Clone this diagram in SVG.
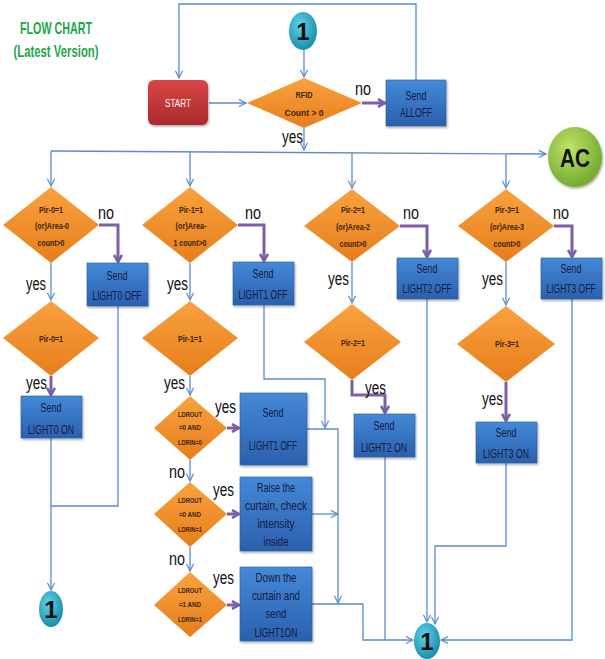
<svg xmlns="http://www.w3.org/2000/svg" width="605" height="659" viewBox="0 0 605 659">
<style>
.dia{fill:url(#gO);}
.box{fill:url(#gB);stroke:#2a5a9e;stroke-width:0.6;filter:url(#sh);}
.dt{font-family:"Liberation Sans",Arial,sans-serif;font-weight:bold;font-size:9px;fill:#3a2410;text-anchor:middle;}
.ds{font-family:"Liberation Sans",Arial,sans-serif;font-weight:bold;font-size:7px;fill:#3a2410;text-anchor:middle;}
.bt{font-family:"Liberation Sans",Arial,sans-serif;font-size:12px;fill:#141a3c;text-anchor:middle;}
.lb{font-family:"Liberation Sans",Arial,sans-serif;font-size:18px;fill:#111;}
.ct{font-family:"Liberation Sans",Arial,sans-serif;font-weight:bold;fill:#111;text-anchor:middle;}
.bl{fill:none;stroke:#5b8bd0;stroke-width:1.3;}
.pl{fill:none;stroke:#7e5fa6;stroke-width:3;}
.ttl{font-family:"Liberation Sans",Arial,sans-serif;font-weight:bold;font-size:17px;fill:#1fa54a;text-anchor:middle;}
</style>
<defs>
<linearGradient id="gO" x1="0" y1="0" x2="0" y2="1"><stop offset="0" stop-color="#f9a23e"/><stop offset="1" stop-color="#e67e1c"/></linearGradient>
<linearGradient id="gB" x1="0" y1="0" x2="0" y2="1"><stop offset="0" stop-color="#4489d8"/><stop offset="1" stop-color="#2b60ae"/></linearGradient>
<linearGradient id="gR" x1="0" y1="0" x2="0" y2="1"><stop offset="0" stop-color="#d94545"/><stop offset="1" stop-color="#a92a2c"/></linearGradient>
<radialGradient id="gT" cx="0.4" cy="0.35" r="0.7"><stop offset="0" stop-color="#5fd4ea"/><stop offset="1" stop-color="#1689a8"/></radialGradient>
<radialGradient id="gG" cx="0.4" cy="0.35" r="0.7"><stop offset="0" stop-color="#bfe46a"/><stop offset="1" stop-color="#6fa62a"/></radialGradient>
<filter id="sh" x="-20%" y="-20%" width="140%" height="140%"><feDropShadow dx="1" dy="1.5" stdDeviation="1.2" flood-color="#000" flood-opacity="0.35"/></filter>
<marker id="ab" viewBox="0 0 10 10" refX="9" refY="5" markerWidth="9" markerHeight="9" markerUnits="userSpaceOnUse" orient="auto"><path d="M1,1 L9,5 L1,9" fill="none" stroke="#5b8bd0" stroke-width="1.3"/></marker>
<marker id="ap" viewBox="0 0 10 10" refX="8" refY="5" markerWidth="10" markerHeight="10" markerUnits="userSpaceOnUse" orient="auto"><path d="M1,1 L8,5 L1,9" fill="none" stroke="#7e5fa6" stroke-width="2.6"/></marker>
</defs>
<rect width="605" height="659" fill="#fff"/>

<g id="title">
<text class="ttl" x="56" y="34" textLength="72" lengthAdjust="spacingAndGlyphs">FLOW CHART</text>
<text class="ttl" x="56" y="57" textLength="85" lengthAdjust="spacingAndGlyphs">(Latest Version)</text>
</g>

<g id="connectors">
<polyline class="bl" points="416,80 416,4 179,4 179,78" marker-end="url(#ab)"/>
<line class="bl" x1="304" y1="50" x2="304" y2="77" marker-end="url(#ab)"/>
<line class="bl" x1="209" y1="103" x2="246" y2="103" marker-end="url(#ab)"/>
<line class="pl" x1="362" y1="103" x2="385" y2="103" marker-end="url(#ap)"/>
<line class="bl" x1="304" y1="128" x2="304" y2="150" marker-end="url(#ab)"/>
<line class="bl" x1="51" y1="151" x2="546" y2="154" marker-end="url(#ab)"/>
<line class="bl" x1="51" y1="151" x2="51" y2="186" marker-end="url(#ab)"/>
<line class="bl" x1="190" y1="152" x2="190" y2="186" marker-end="url(#ab)"/>
<line class="bl" x1="352" y1="153" x2="352" y2="188" marker-end="url(#ab)"/>
<line class="bl" x1="506" y1="154" x2="506" y2="188" marker-end="url(#ab)"/>
<polyline class="pl" points="99,225 118,225 118,262" marker-end="url(#ap)"/>
<polyline class="pl" points="238,225 264,225 264,261" marker-end="url(#ap)"/>
<polyline class="pl" points="400,226 427,226 427,257" marker-end="url(#ap)"/>
<polyline class="pl" points="554,226 572,226 572,257" marker-end="url(#ap)"/>
<line class="bl" x1="51" y1="263" x2="51" y2="300" marker-end="url(#ab)"/>
<line class="bl" x1="190" y1="263" x2="190" y2="300" marker-end="url(#ab)"/>
<line class="bl" x1="352" y1="262" x2="352" y2="303" marker-end="url(#ab)"/>
<line class="bl" x1="506" y1="262" x2="506" y2="305" marker-end="url(#ab)"/>
<line class="pl" x1="51" y1="376" x2="51" y2="395" marker-end="url(#ap)"/>
<line class="bl" x1="190" y1="376" x2="190" y2="395" marker-end="url(#ab)"/>
<polyline class="pl" points="352,380 352,395 385,395 385,413" marker-end="url(#ap)"/>
<line class="pl" x1="506" y1="382" x2="506" y2="421" marker-end="url(#ap)"/>
<line class="pl" x1="227" y1="428" x2="239" y2="428" marker-end="url(#ap)"/>
<line class="pl" x1="227" y1="514" x2="239" y2="514" marker-end="url(#ap)"/>
<line class="pl" x1="227" y1="605" x2="239" y2="605" marker-end="url(#ap)"/>
<line class="bl" x1="190" y1="460" x2="190" y2="481" marker-end="url(#ab)"/>
<line class="bl" x1="190" y1="547" x2="190" y2="571" marker-end="url(#ab)"/>
<polyline class="bl" points="118,306 118,506 51,506"/>
<line class="bl" x1="51" y1="438" x2="51" y2="590" marker-end="url(#ab)"/>
<polyline class="bl" points="264,305 264,379 325,379 325,428" marker-end="url(#ab)"/>
<polyline class="bl" points="307,429 338,429 338,603" marker-end="url(#ab)"/>
<line class="bl" x1="312" y1="514" x2="338" y2="514" marker-end="url(#ab)"/>
<polyline class="bl" points="312,604 363,604 363,640 413,640" marker-end="url(#ab)"/>
<line class="bl" x1="385" y1="457" x2="385" y2="640"/>
<line class="bl" x1="427" y1="299" x2="427" y2="622" marker-end="url(#ab)"/>
<polyline class="bl" points="506,463 506,546 435,546 435,624" marker-end="url(#ab)"/>
<polyline class="bl" points="572,299 572,640 441,640" marker-end="url(#ab)"/>
</g>

<g id="c1top"><ellipse cx="303" cy="31" rx="14" ry="19" fill="url(#gT)"/><text class="ct" x="303" y="40" font-size="24">1</text></g>
<g id="start"><rect x="148" y="80" width="60" height="45" rx="6" fill="url(#gR)" filter="url(#sh)"/><text x="178" y="107" font-family="Liberation Sans, Arial, sans-serif" font-size="11" fill="#fff" text-anchor="middle" textLength="26" lengthAdjust="spacingAndGlyphs">START</text></g>
<g id="rfid"><polygon class="dia" points="304,78 362,103 304,128 247,103"/><text class="dt" x="304" y="98" font-size="10" textLength="17" lengthAdjust="spacingAndGlyphs">RFID</text><text class="dt" x="304" y="116" font-size="10" textLength="39" lengthAdjust="spacingAndGlyphs">Count &gt; 0</text></g>
<g id="alloff"><rect class="box" x="386" y="80" width="60" height="46"/><text class="bt" x="416" y="100" textLength="21" lengthAdjust="spacingAndGlyphs">Send</text><text class="bt" x="416" y="117" textLength="32" lengthAdjust="spacingAndGlyphs">ALLOFF</text></g>
<g id="ac"><ellipse cx="575" cy="157" rx="27" ry="30" fill="url(#gG)" filter="url(#sh)"/><text class="ct" x="575" y="167" font-size="26" textLength="30" lengthAdjust="spacingAndGlyphs">AC</text></g>

<g id="pir0"><polygon class="dia" points="51,187 99,225 51,263 3,225"/><text class="dt" x="51" y="213" textLength="24" lengthAdjust="spacingAndGlyphs">Pir-0=1</text><text class="dt" x="52" y="229" textLength="34" lengthAdjust="spacingAndGlyphs">(or)Area-0</text><text class="dt" x="51" y="246" textLength="27" lengthAdjust="spacingAndGlyphs">count&gt;0</text></g>
<g id="pir1"><polygon class="dia" points="190,187 238,225 190,263 142,225"/><text class="dt" x="191" y="213" textLength="24" lengthAdjust="spacingAndGlyphs">Pir-1=1</text><text class="dt" x="191" y="229" textLength="31" lengthAdjust="spacingAndGlyphs">(or)Area-</text><text class="dt" x="190" y="246" textLength="33" lengthAdjust="spacingAndGlyphs">1 count&gt;0</text></g>
<g id="pir2"><polygon class="dia" points="352,189 400,226 352,262 304,226"/><text class="dt" x="353" y="213" textLength="24" lengthAdjust="spacingAndGlyphs">Pir-2=1</text><text class="dt" x="353" y="230" textLength="34" lengthAdjust="spacingAndGlyphs">(or)Area-2</text><text class="dt" x="353" y="247" textLength="27" lengthAdjust="spacingAndGlyphs">count&gt;0</text></g>
<g id="pir3"><polygon class="dia" points="506,189 554,226 506,262 458,226"/><text class="dt" x="507" y="213" textLength="24" lengthAdjust="spacingAndGlyphs">Pir-3=1</text><text class="dt" x="507" y="230" textLength="34" lengthAdjust="spacingAndGlyphs">(or)Area-3</text><text class="dt" x="507" y="247" textLength="27" lengthAdjust="spacingAndGlyphs">count&gt;0</text></g>

<g id="off0"><rect class="box" x="87" y="263" width="61" height="43"/><text class="bt" x="117" y="280" textLength="21" lengthAdjust="spacingAndGlyphs">Send</text><text class="bt" x="117" y="300" textLength="49" lengthAdjust="spacingAndGlyphs">LIGHT0 OFF</text></g>
<g id="off1"><rect class="box" x="233" y="262" width="61" height="43"/><text class="bt" x="263" y="278" textLength="21" lengthAdjust="spacingAndGlyphs">Send</text><text class="bt" x="263" y="299" textLength="49" lengthAdjust="spacingAndGlyphs">LIGHT1 OFF</text></g>
<g id="off2"><rect class="box" x="397" y="258" width="61" height="41"/><text class="bt" x="427" y="273" textLength="21" lengthAdjust="spacingAndGlyphs">Send</text><text class="bt" x="427" y="293" textLength="49" lengthAdjust="spacingAndGlyphs">LIGHT2 OFF</text></g>
<g id="off3"><rect class="box" x="541" y="258" width="61" height="41"/><text class="bt" x="571" y="273" textLength="21" lengthAdjust="spacingAndGlyphs">Send</text><text class="bt" x="571" y="293" font-size="11" textLength="49" lengthAdjust="spacingAndGlyphs">LIGHT3 OFF</text></g>

<g id="pir0b"><polygon class="dia" points="51,301 99,338 51,376 3,338"/><text class="dt" x="51" y="342" textLength="24" lengthAdjust="spacingAndGlyphs">Pir-0=1</text></g>
<g id="pir1b"><polygon class="dia" points="190,301 238,338 190,376 142,338"/><text class="dt" x="190" y="342" textLength="24" lengthAdjust="spacingAndGlyphs">Pir-1=1</text></g>
<g id="pir2b"><polygon class="dia" points="352,304 401,342 352,380 304,342"/><text class="dt" x="353" y="346" textLength="24" lengthAdjust="spacingAndGlyphs">Pir-2=1</text></g>
<g id="pir3b"><polygon class="dia" points="506,306 555,344 506,382 457,344"/><text class="dt" x="507" y="347" textLength="24" lengthAdjust="spacingAndGlyphs">Pir-3=1</text></g>

<g id="on0"><rect class="box" x="21" y="396" width="61" height="42"/><text class="bt" x="51" y="412" textLength="21" lengthAdjust="spacingAndGlyphs">Send</text><text class="bt" x="51" y="434" textLength="46" lengthAdjust="spacingAndGlyphs">LIGHT0 ON</text></g>
<g id="on2"><rect class="box" x="354" y="414" width="61" height="43"/><text class="bt" x="384" y="430" textLength="21" lengthAdjust="spacingAndGlyphs">Send</text><text class="bt" x="384" y="452" textLength="46" lengthAdjust="spacingAndGlyphs">LIGHT2 ON</text></g>
<g id="on3"><rect class="box" x="476" y="422" width="61" height="41"/><text class="bt" x="506" y="437" textLength="21" lengthAdjust="spacingAndGlyphs">Send</text><text class="bt" x="506" y="458" textLength="46" lengthAdjust="spacingAndGlyphs">LIGHT3 ON</text></g>

<g id="ldr1"><polygon class="dia" points="190,396 227,428 190,460 154,428"/><text class="ds" x="190" y="417" textLength="24" lengthAdjust="spacingAndGlyphs">LDROUT</text><text class="ds" x="190" y="430" textLength="22" lengthAdjust="spacingAndGlyphs">=0 AND</text><text class="ds" x="190" y="445" textLength="24" lengthAdjust="spacingAndGlyphs">LDRIN=0</text></g>
<g id="ldr2"><polygon class="dia" points="190,482 227,514 190,547 154,514"/><text class="ds" x="190" y="503" textLength="24" lengthAdjust="spacingAndGlyphs">LDROUT</text><text class="ds" x="190" y="517" textLength="22" lengthAdjust="spacingAndGlyphs">=0 AND</text><text class="ds" x="190" y="532" textLength="24" lengthAdjust="spacingAndGlyphs">LDRIN=1</text></g>
<g id="ldr3"><polygon class="dia" points="190,572 227,605 190,637 154,605"/><text class="ds" x="190" y="593" textLength="24" lengthAdjust="spacingAndGlyphs">LDROUT</text><text class="ds" x="190" y="607" textLength="22" lengthAdjust="spacingAndGlyphs">=1 AND</text><text class="ds" x="190" y="622" textLength="24" lengthAdjust="spacingAndGlyphs">LDRIN=1</text></g>

<g id="off1b"><rect class="box" x="240" y="393" width="67" height="72"/><text class="bt" x="273" y="417" textLength="21" lengthAdjust="spacingAndGlyphs">Send</text><text class="bt" x="273" y="450" textLength="48" lengthAdjust="spacingAndGlyphs">LIGHT1 OFF</text></g>
<g id="raise"><rect class="box" x="240" y="477" width="72" height="74"/><text class="bt" x="276" y="492" textLength="38" lengthAdjust="spacingAndGlyphs">Raise the</text><text class="bt" x="276" y="510" textLength="62" lengthAdjust="spacingAndGlyphs">curtain, check</text><text class="bt" x="276" y="528" textLength="37" lengthAdjust="spacingAndGlyphs">intensity</text><text class="bt" x="276" y="546" textLength="25" lengthAdjust="spacingAndGlyphs">inside</text></g>
<g id="down"><rect class="box" x="240" y="567" width="72" height="74"/><text class="bt" x="276" y="582" textLength="41" lengthAdjust="spacingAndGlyphs">Down the</text><text class="bt" x="276" y="600" textLength="48" lengthAdjust="spacingAndGlyphs">curtain and</text><text class="bt" x="276" y="618" textLength="21" lengthAdjust="spacingAndGlyphs">send</text><text class="bt" x="276" y="637" textLength="43" lengthAdjust="spacingAndGlyphs">LIGHT1ON</text></g>

<g id="c1left"><ellipse cx="51" cy="609" rx="12" ry="18" fill="url(#gT)"/><text class="ct" x="51" y="618" font-size="24">1</text></g>
<g id="c1bottom"><ellipse cx="427" cy="641" rx="13" ry="18" fill="url(#gT)"/><text class="ct" x="427" y="650" font-size="24">1</text></g>

<g id="labels">
<text class="lb" x="355" y="95" textLength="16" lengthAdjust="spacingAndGlyphs">no</text>
<text class="lb" x="282" y="143" textLength="21" lengthAdjust="spacingAndGlyphs">yes</text>
<text class="lb" x="98" y="219" textLength="16" lengthAdjust="spacingAndGlyphs">no</text>
<text class="lb" x="245" y="219" textLength="16" lengthAdjust="spacingAndGlyphs">no</text>
<text class="lb" x="403" y="219" textLength="16" lengthAdjust="spacingAndGlyphs">no</text>
<text class="lb" x="553" y="219" textLength="16" lengthAdjust="spacingAndGlyphs">no</text>
<text class="lb" x="26" y="290" textLength="20" lengthAdjust="spacingAndGlyphs">yes</text>
<text class="lb" x="167" y="290" textLength="21" lengthAdjust="spacingAndGlyphs">yes</text>
<text class="lb" x="328" y="285" textLength="21" lengthAdjust="spacingAndGlyphs">yes</text>
<text class="lb" x="482" y="285" textLength="21" lengthAdjust="spacingAndGlyphs">yes</text>
<text class="lb" x="26" y="389" textLength="21" lengthAdjust="spacingAndGlyphs">yes</text>
<text class="lb" x="164" y="389" textLength="21" lengthAdjust="spacingAndGlyphs">yes</text>
<text class="lb" x="365" y="394" textLength="21" lengthAdjust="spacingAndGlyphs">yes</text>
<text class="lb" x="482" y="405" textLength="21" lengthAdjust="spacingAndGlyphs">yes</text>
<text class="lb" x="215" y="413" textLength="21" lengthAdjust="spacingAndGlyphs">yes</text>
<text class="lb" x="169" y="478" textLength="16" lengthAdjust="spacingAndGlyphs">no</text>
<text class="lb" x="213" y="496" textLength="21" lengthAdjust="spacingAndGlyphs">yes</text>
<text class="lb" x="169" y="565" textLength="16" lengthAdjust="spacingAndGlyphs">no</text>
<text class="lb" x="213" y="584" textLength="21" lengthAdjust="spacingAndGlyphs">yes</text>
</g>
</svg>
